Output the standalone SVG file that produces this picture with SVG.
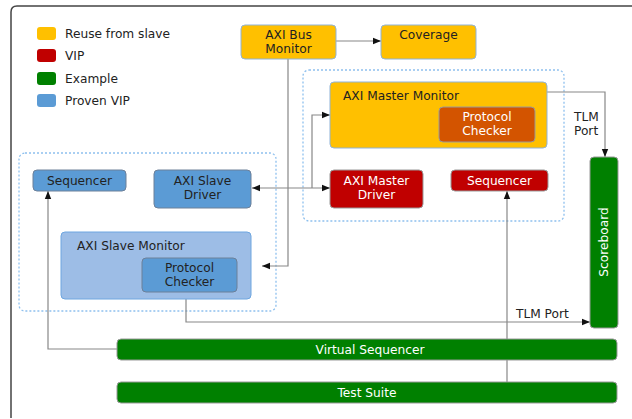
<svg xmlns="http://www.w3.org/2000/svg" width="632" height="419" viewBox="0 0 632 419">
<defs>
<style>
text{font-family:"DejaVu Sans","Open Sans",sans-serif;font-size:12.2px;}
.dk{fill:#222;}
.wt{fill:#fff;}
.y{fill:#FFC000;stroke:#8fb3d9;stroke-width:1;}
.r{fill:#C00000;stroke:#999;stroke-width:1;}
.g{fill:#008000;stroke:#999;stroke-width:1;}
.b{fill:#5B9BD5;stroke:#6d8099;stroke-width:1;}
.lb{fill:#9DBDE6;stroke:#6ea6e0;stroke-width:1;}
.o{fill:#D35400;stroke:#999;stroke-width:1;}
.cont{fill:none;stroke:#8ec0ee;stroke-width:1.3;stroke-dasharray:2,2;}
.ln{fill:none;stroke:#888;stroke-width:1.2;}
</style>
<marker id="ah" viewBox="0 0 10 10" refX="10" refY="5" markerWidth="10" markerHeight="8" markerUnits="userSpaceOnUse" orient="auto-start-reverse">
<path d="M0,1 L10,5 L0,9 z" fill="#111"/>
</marker>
</defs>
<rect width="632" height="419" fill="#fff"/>
<path d="M11,418 V12 Q11,6 17,6 H632" fill="none" stroke="#444" stroke-width="1.5"/>

<g id="legend">
<rect x="37" y="27" width="19" height="13" rx="3" fill="#FFC000"/>
<text x="65" y="38" class="dk">Reuse from slave</text>
<rect x="37" y="49" width="19" height="13" rx="3" fill="#C00000"/>
<text x="65" y="60" class="dk">VIP</text>
<rect x="37" y="72" width="19" height="13" rx="3" fill="#008000"/>
<text x="65" y="83" class="dk">Example</text>
<rect x="37" y="94" width="19" height="13" rx="3" fill="#5B9BD5"/>
<text x="65" y="105" class="dk">Proven VIP</text>
</g>

<g id="slave-container"><rect x="19" y="153" width="257" height="158" rx="6" class="cont"/></g>
<g id="master-container"><rect x="303" y="70" width="261" height="151" rx="6" class="cont"/></g>

<g id="connectors">
<line x1="336" y1="41" x2="381" y2="41" class="ln" marker-end="url(#ah)"/>
<polyline points="288,59 288,266 262,266" class="ln" marker-end="url(#ah)"/>
<line x1="252" y1="188" x2="330" y2="188" class="ln" marker-start="url(#ah)" marker-end="url(#ah)"/>
<polyline points="312,188 312,115 330,115" class="ln" marker-end="url(#ah)"/>
<polyline points="547,92 605,92 605,157" class="ln" marker-end="url(#ah)"/>
<polyline points="186,292 186,322 590,322" class="ln" marker-end="url(#ah)"/>
<line x1="507" y1="382" x2="507" y2="191" class="ln" marker-end="url(#ah)"/>
<polyline points="117,349 48,349 48,191" class="ln" marker-end="url(#ah)"/>
<text x="574" y="121" class="dk">TLM</text>
<text x="574" y="135" class="dk">Port</text>
<text x="516" y="318" class="dk">TLM Port</text>
</g>

<g id="axi-bus-monitor"><rect x="241" y="25" width="95" height="34" rx="4" class="y"/>
<text x="288.5" y="39" text-anchor="middle" class="dk">AXI Bus</text>
<text x="288.5" y="53" text-anchor="middle" class="dk">Monitor</text></g>

<g id="coverage"><rect x="381" y="25" width="95" height="34" rx="4" class="y"/>
<text x="428.5" y="39" text-anchor="middle" class="dk">Coverage</text></g>

<g id="axi-master-monitor"><rect x="330" y="82" width="217" height="66" rx="4" class="y"/>
<text x="343" y="100" class="dk">AXI Master Monitor</text></g>

<g id="master-protocol-checker"><rect x="439" y="107" width="96" height="35" rx="4" class="o"/>
<text x="487" y="121" text-anchor="middle" class="wt">Protocol</text>
<text x="487" y="135" text-anchor="middle" class="wt">Checker</text></g>

<g id="axi-master-driver"><rect x="330" y="170" width="93" height="38" rx="4" class="r"/>
<text x="376.5" y="185" text-anchor="middle" class="wt">AXI Master</text>
<text x="376.5" y="199" text-anchor="middle" class="wt">Driver</text></g>

<g id="master-sequencer"><rect x="451" y="170" width="97" height="21" rx="4" class="r"/>
<text x="499.5" y="184.5" text-anchor="middle" class="wt">Sequencer</text></g>

<g id="slave-sequencer"><rect x="33" y="170" width="93" height="21" rx="4" class="b"/>
<text x="79.5" y="184.5" text-anchor="middle" class="dk">Sequencer</text></g>

<g id="axi-slave-driver"><rect x="154" y="170" width="97" height="38" rx="4" class="b"/>
<text x="202.5" y="185" text-anchor="middle" class="dk">AXI Slave</text>
<text x="202.5" y="199" text-anchor="middle" class="dk">Driver</text></g>

<g id="axi-slave-monitor"><rect x="61" y="232" width="190" height="67" rx="4" class="lb"/>
<text x="77" y="250" class="dk">AXI Slave Monitor</text></g>

<g id="slave-protocol-checker"><rect x="142" y="258" width="95" height="34" rx="4" class="b"/>
<text x="189.5" y="272" text-anchor="middle" class="dk">Protocol</text>
<text x="189.5" y="286" text-anchor="middle" class="dk">Checker</text></g>

<g id="scoreboard"><rect x="590" y="157" width="28" height="171" rx="4" class="g"/>
<text x="0" y="0" transform="translate(608,242) rotate(-90)" text-anchor="middle" class="wt">Scoreboard</text></g>

<g id="virtual-sequencer"><rect x="117" y="339" width="500" height="21" rx="4" class="g"/>
<text x="370" y="354" text-anchor="middle" class="wt">Virtual Sequencer</text></g>

<g id="test-suite"><rect x="117" y="382" width="500" height="21" rx="4" class="g"/>
<text x="367" y="397" text-anchor="middle" class="wt">Test Suite</text></g>
</svg>
